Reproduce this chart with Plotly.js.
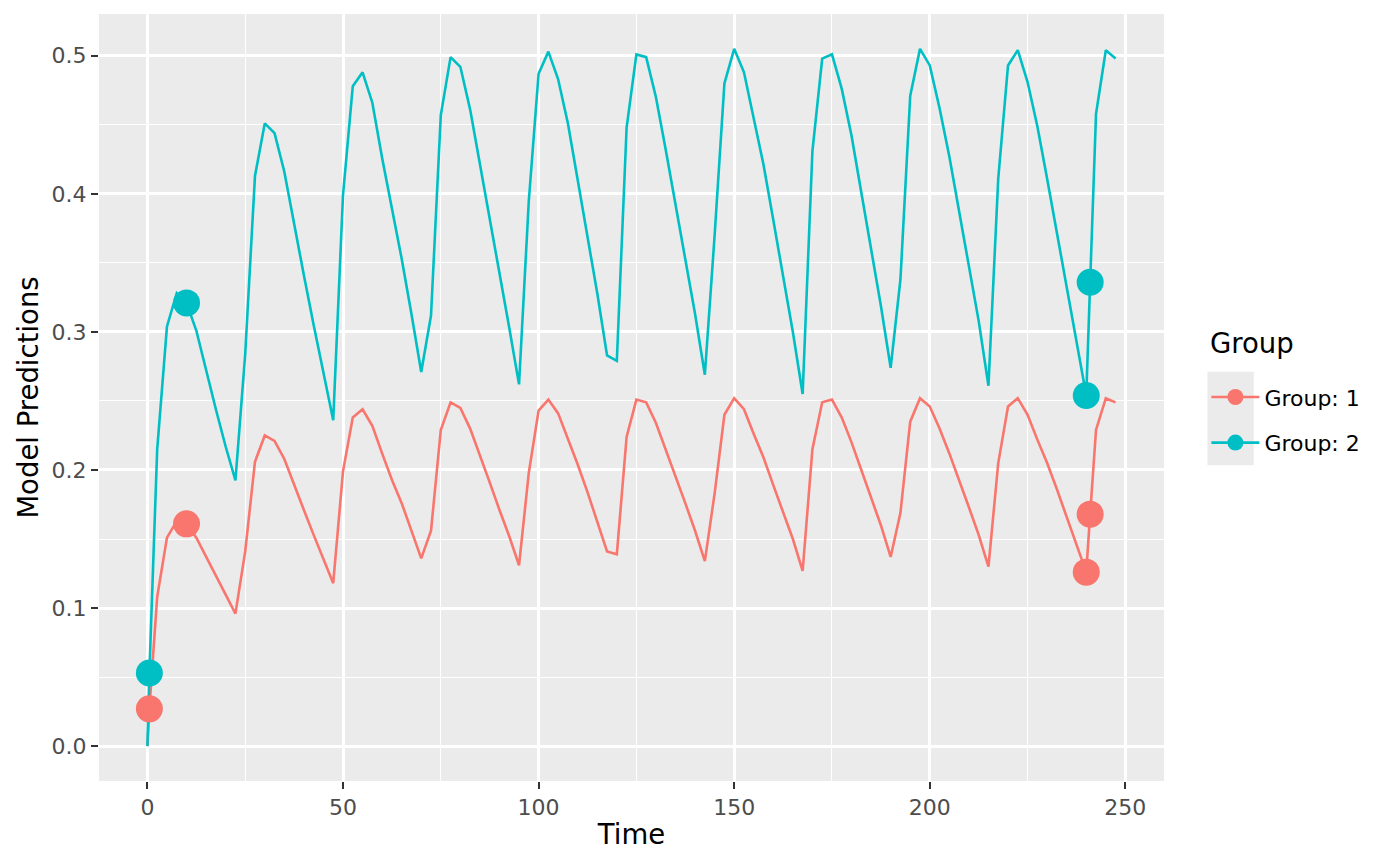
<!DOCTYPE html>
<html>
<head>
<meta charset="utf-8">
<script src="https://cdn.plot.ly/plotly-3.0.1.min.js"></script>
<style>
  body { margin: 0; background: #ffffff; }
  #myChart { width: 1400px; height: 865px; }
</style>
</head>
<body>
<div id="myChart"></div>
<script>
// prediction times (grid of 2.5 plus the observation times)
let times = [0, 0.5, 2.5, 5, 7.5, 10, 12.5, 15, 17.5, 20, 22.5,
  25, 27.5, 30, 32.5, 35, 37.5, 40, 42.5, 45, 47.5,
  50, 52.5, 55, 57.5, 60, 62.5, 65, 67.5, 70,
  72.5, 75, 77.5, 80, 82.5, 85, 87.5, 90, 92.5, 95,
  97.5, 100, 102.5, 105, 107.5, 110, 112.5, 115, 117.5,
  120, 122.5, 125, 127.5, 130, 132.5, 135, 137.5, 140, 142.5,
  145, 147.5, 150, 152.5, 155, 157.5, 160, 162.5, 165, 167.5,
  170, 172.5, 175, 177.5, 180, 182.5, 185, 187.5, 190,
  192.5, 195, 197.5, 200, 202.5, 205, 207.5, 210, 212.5, 215,
  217.5, 220, 222.5, 225, 227.5, 230, 232.5, 235, 237.5, 240,
  241, 242.5, 245, 247.5];

let group1 = [0, 0.027, 0.108, 0.151, 0.163, 0.161, 0.151, 0.137, 0.123, 0.110, 0.096,
  0.141, 0.206, 0.225, 0.221, 0.208, 0.189, 0.171, 0.153, 0.136, 0.118,
  0.199, 0.238, 0.244, 0.232, 0.212, 0.193, 0.176, 0.156, 0.136,
  0.156, 0.229, 0.249, 0.245, 0.230, 0.211, 0.191, 0.171, 0.152, 0.131,
  0.198, 0.243, 0.251, 0.241, 0.223, 0.204, 0.184, 0.163, 0.141,
  0.139, 0.224, 0.251, 0.249, 0.234, 0.215, 0.196, 0.176, 0.156, 0.134,
  0.183, 0.240, 0.252, 0.244, 0.226, 0.209, 0.189, 0.169, 0.150, 0.127,
  0.215, 0.249, 0.251, 0.238, 0.220, 0.200, 0.180, 0.160, 0.137,
  0.169, 0.235, 0.252, 0.246, 0.230, 0.212, 0.193, 0.173, 0.153, 0.130,
  0.205, 0.246, 0.252, 0.240, 0.222, 0.205, 0.186, 0.166, 0.146, 0.126,
  0.168, 0.229, 0.252, 0.249];

let group2 = [0, 0.053, 0.215, 0.304, 0.328, 0.321, 0.301, 0.272, 0.244, 0.217, 0.1925,
  0.284, 0.413, 0.451, 0.444, 0.416, 0.378, 0.341, 0.305, 0.270, 0.236,
  0.399, 0.478, 0.488, 0.466, 0.426, 0.389, 0.353, 0.313, 0.271,
  0.312, 0.457, 0.499, 0.492, 0.461, 0.422, 0.382, 0.342, 0.303, 0.262,
  0.395, 0.487, 0.503, 0.483, 0.451, 0.410, 0.369, 0.328, 0.283,
  0.279, 0.448, 0.501, 0.499, 0.470, 0.432, 0.392, 0.352, 0.313, 0.269,
  0.370, 0.480, 0.505, 0.488, 0.454, 0.421, 0.381, 0.341, 0.300, 0.255,
  0.431, 0.498, 0.501, 0.476, 0.442, 0.401, 0.360, 0.319, 0.274,
  0.338, 0.471, 0.505, 0.493, 0.462, 0.427, 0.387, 0.348, 0.308, 0.261,
  0.411, 0.493, 0.504, 0.481, 0.449, 0.411, 0.372, 0.333, 0.294, 0.254,
  0.336, 0.458, 0.504, 0.498];

// observed points
let obsTime = [0.5, 10, 240, 241];
let obs1 = [0.027, 0.161, 0.126, 0.168];
let obs2 = [0.053, 0.321, 0.254, 0.336];

let groupNames = ["Group: 1", "Group: 2"];
let colors = ["#F8766D", "#00BFC4"];

// put nulls between the points so no line is drawn, but the legend still shows a line
function withGaps(arr) {
  let out = [];
  for (let i in arr) {
    if (i > 0) out.push(null);
    out.push(arr[i]);
  }
  return out;
}

const font = "DejaVu Sans";

const data = [
  {
    x: times, y: group1, mode: "lines", legendgroup: "g1", showlegend: false,
    line: {color: colors[0], width: 2.6}, hoverinfo: "skip"
  },
  {
    x: times, y: group2, mode: "lines", legendgroup: "g2", showlegend: false,
    line: {color: colors[1], width: 2.6}, hoverinfo: "skip"
  },
  {
    x: withGaps(obsTime), y: withGaps(obs1), mode: "lines+markers", name: groupNames[0],
    legendgroup: "g1", connectgaps: false,
    line: {color: colors[0], width: 2.6}, marker: {color: colors[0], size: 27}
  },
  {
    x: withGaps(obsTime), y: withGaps(obs2), mode: "lines+markers", name: groupNames[1],
    legendgroup: "g2", connectgaps: false,
    line: {color: colors[1], width: 2.6}, marker: {color: colors[1], size: 27}
  }
];

const layout = {
  width: 1400,
  height: 865,
  margin: {l: 99.3, r: 235.7, t: 14, b: 84.3},
  paper_bgcolor: "#FFFFFF",
  plot_bgcolor: "#EBEBEB",
  font: {family: font, color: "#000000"},
  xaxis: {
    range: [-12.375, 259.875],
    tick0: 0, dtick: 50,
    showgrid: true, gridcolor: "#FFFFFF", gridwidth: 2.6,
    minor: {dtick: 25, showgrid: true, gridcolor: "#FFFFFF", gridwidth: 1.3},
    zeroline: false, showline: false,
    ticks: "outside", ticklen: 7, tickwidth: 2.4, tickcolor: "#333333",
    tickfont: {family: font, size: 22, color: "#4D4D4D"},
    title: {text: "Time", font: {family: font, size: 27.5, color: "#000000"}, standoff: 5}
  },
  yaxis: {
    range: [-0.02525, 0.53025],
    tick0: 0, dtick: 0.1, tickformat: ".1f",
    showgrid: true, gridcolor: "#FFFFFF", gridwidth: 2.6,
    minor: {dtick: 0.05, showgrid: true, gridcolor: "#FFFFFF", gridwidth: 1.3},
    zeroline: false, showline: false,
    ticks: "outside", ticklen: 7, tickwidth: 2.4, tickcolor: "#333333",
    tickfont: {family: font, size: 22, color: "#4D4D4D"},
    title: {text: "Model Predictions", font: {family: font, size: 27.5, color: "#000000"}, standoff: 4}
  },
  legend: {
    x: 1.0398, xanchor: "left",
    y: 0.5278, yanchor: "top",
    bgcolor: "rgba(0,0,0,0)",
    traceorder: "grouped",
    tracegroupgap: 14,
    itemwidth: 48,
    font: {family: font, size: 22, color: "#000000"}
  },
  // legend title as a separate text, so it can sit higher above the keys
  annotations: [{
    text: "Group", xref: "paper", yref: "paper",
    x: 1.0413, y: 0.5709, xanchor: "left", yanchor: "middle",
    showarrow: false, font: {family: font, size: 27.5, color: "#000000"}
  }],
  // grey background behind the legend keys
  shapes: [{
    type: "rect", xref: "paper", yref: "paper", layer: "below",
    x0: 1.0408, x1: 1.0842, y0: 0.4118, y1: 0.5335,
    fillcolor: "#EBEBEB", line: {width: 0}
  }]
};

const config = {responsive: false, displayModeBar: false};

Plotly.newPlot("myChart", data, layout, config);
</script>
</body>
</html>
